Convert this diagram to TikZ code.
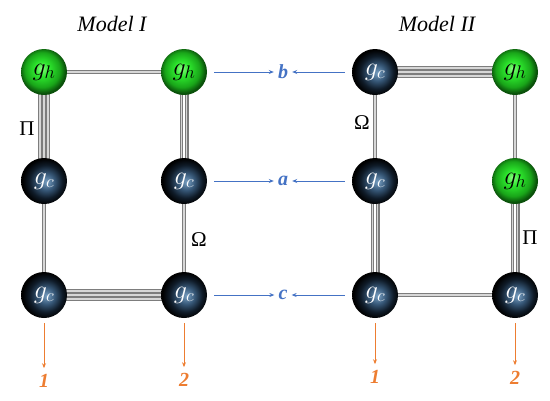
\RequirePackage{fix-cm}
\documentclass[tikz,border=0pt]{standalone}
\usepackage[no-math]{fontspec}
\setmainfont{Liberation Serif}
\usetikzlibrary{backgrounds,arrows.meta}
\definecolor{bondgray}{RGB}{125,125,125}
\definecolor{bondlight}{RGB}{215,215,215}
\definecolor{arrblue}{RGB}{68,114,196}
\definecolor{arrorange}{RGB}{237,125,49}
\definecolor{ghl}{RGB}{140,255,130}
\definecolor{ghm}{RGB}{45,230,45}
\definecolor{ghd}{RGB}{25,165,25}
\definecolor{ghe}{RGB}{10,80,10}
\definecolor{gcl}{RGB}{120,160,195}
\definecolor{gcm}{RGB}{55,88,120}
\definecolor{gcd}{RGB}{15,27,40}
\definecolor{gce}{RGB}{0,0,0}
\pgfdeclareradialshading{greenball}{\pgfpoint{-3bp}{4bp}}{color(0bp)=(ghl); color(8bp)=(ghm); color(19bp)=(ghd); color(25bp)=(ghe); color(50bp)=(ghe)}
\pgfdeclareradialshading{darkball}{\pgfpoint{3bp}{-1bp}}{color(0bp)=(gcl); color(9bp)=(gcm); color(18bp)=(gcd); color(25bp)=(gce); color(50bp)=(gce)}
\tikzset{
  ball/.style={circle, minimum size=46pt, inner sep=0pt, font=\fontsize{26}{26}\selectfont},
  ghball/.style={ball, shading=greenball, text=black},
  gcball/.style={ball, shading=darkball, text=white},
  bar/.style={draw=bondgray, line width=1.3pt, double=bondlight, double distance=1.2pt},
  title/.style={font=\fontsize{22}{22}\selectfont\itshape},
  greek/.style={font=\fontsize{21}{21}\selectfont},
  bluelab/.style={text=arrblue, font=\fontsize{20}{20}\selectfont\bfseries\itshape, inner sep=4pt},
  orangelab/.style={text=arrorange, font=\fontsize{20}{20}\selectfont\bfseries\itshape, inner sep=4pt},
  bluearrow/.style={draw=arrblue, line width=0.8pt, -{Stealth[length=5pt,width=4pt]}, shorten <=7pt},
  orangearrow/.style={draw=arrorange, line width=0.8pt, -{Stealth[length=5pt,width=4pt]}, shorten <=5pt, shorten >=2pt}
}
\begin{document}
\begin{tikzpicture}[x=1pt,y=-1pt]
\useasboundingbox (0,0) rectangle (550,400);
% titles
\node[title] (t1) at (112,24) {Model I};
\node[title] (t2) at (437,24) {Model II};
% Model I
\node[ghball] (A1) at (44,72) {$g_h$};
\node[ghball] (B1) at (184,72) {$g_h$};
\node[gcball] (C1) at (44,181) {$g_c$};
\node[gcball] (D1) at (184,181) {$g_c$};
\node[gcball] (E1) at (44,295) {$g_c$};
\node[gcball] (F1) at (184,295) {$g_c$};
% Model II
\node[gcball] (A2) at (375,72) {$g_c$};
\node[ghball] (B2) at (515,72) {$g_h$};
\node[gcball] (C2) at (375,181) {$g_c$};
\node[ghball] (D2) at (515,181) {$g_h$};
\node[gcball] (E2) at (375,295) {$g_c$};
\node[gcball] (F2) at (515,295) {$g_c$};
\begin{pgfonlayer}{background}
% Model I bonds
\draw[bar] (A1.center) -- (B1.center);
\draw[bar] ([xshift=-4pt]A1.center) -- ([xshift=-4pt]C1.center);
\draw[bar] (A1.center) -- (C1.center);
\draw[bar] ([xshift=4pt]A1.center) -- ([xshift=4pt]C1.center);
\draw[bar] ([xshift=-2.6pt]B1.center) -- ([xshift=-2.6pt]D1.center);
\draw[bar] ([xshift=2.6pt]B1.center) -- ([xshift=2.6pt]D1.center);
\draw[bar] (C1.center) -- (E1.center);
\draw[bar] (D1.center) -- (F1.center);
\draw[bar] ([yshift=-4pt]E1.center) -- ([yshift=-4pt]F1.center);
\draw[bar] (E1.center) -- (F1.center);
\draw[bar] ([yshift=4pt]E1.center) -- ([yshift=4pt]F1.center);
% Model II bonds
\draw[bar] ([yshift=-4pt]A2.center) -- ([yshift=-4pt]B2.center);
\draw[bar] (A2.center) -- (B2.center);
\draw[bar] ([yshift=4pt]A2.center) -- ([yshift=4pt]B2.center);
\draw[bar] (A2.center) -- (C2.center);
\draw[bar] (B2.center) -- (D2.center);
\draw[bar] ([xshift=-2.6pt]C2.center) -- ([xshift=-2.6pt]E2.center);
\draw[bar] ([xshift=2.6pt]C2.center) -- ([xshift=2.6pt]E2.center);
\draw[bar] ([xshift=-2.6pt]D2.center) -- ([xshift=-2.6pt]F2.center);
\draw[bar] ([xshift=2.6pt]D2.center) -- ([xshift=2.6pt]F2.center);
\draw[bar] (E2.center) -- (F2.center);
\end{pgfonlayer}
% Greek labels
\node[greek] (p1) at (27,129) {Π};
\node[greek] (o1) at (199,240) {Ω};
\node[greek] (o2) at (362,123) {Ω};
\node[greek] (p2) at (530,238) {Π};
% blue labels and arrows
\node[bluelab] (lb) at (283,72) {b};
\node[bluelab] (la) at (283,181) {a};
\node[bluelab] (lc) at (283,295) {c};
\draw[bluearrow] (B1) -- (lb);
\draw[bluearrow] (D1) -- (la);
\draw[bluearrow] (F1) -- (lc);
\draw[bluearrow] (A2) -- (lb);
\draw[bluearrow] (C2) -- (la);
\draw[bluearrow] (E2) -- (lc);
% orange labels and arrows
\node[orangelab] (n11) at (44,381) {1};
\node[orangelab] (n12) at (184,380) {2};
\node[orangelab] (n21) at (375,377) {1};
\node[orangelab] (n22) at (515,378) {2};
\draw[orangearrow] (E1) -- (n11);
\draw[orangearrow] (F1) -- (n12);
\draw[orangearrow] (E2) -- (n21);
\draw[orangearrow] (F2) -- (n22);
\end{tikzpicture}
\end{document}
